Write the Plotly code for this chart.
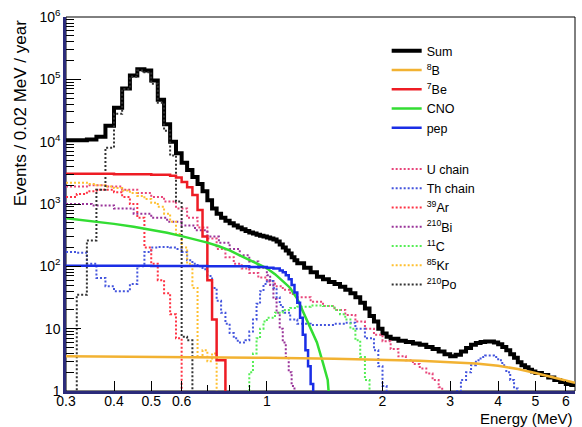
import math
import plotly.graph_objects as go

# ---------------- data (bin left edges in MeV, events / 0.02 MeV / year) ----------------
E_sum = [0.30, 0.32, 0.34, 0.36, 0.38, 0.40, 0.42, 0.44, 0.46, 0.48, 0.50, 0.52, 0.54, 0.56, 0.58,
         0.60, 0.62, 0.64, 0.66, 0.68, 0.70, 0.72, 0.74, 0.76, 0.78, 0.80, 0.82, 0.84, 0.86, 0.88,
         0.90, 0.92, 0.94, 0.96, 0.98, 1.00, 1.02, 1.04, 1.06, 1.08, 1.10, 1.12, 1.14, 1.16, 1.18,
         1.20, 1.25, 1.30, 1.35, 1.40, 1.45, 1.50, 1.55, 1.60, 1.65, 1.70, 1.75, 1.80, 1.85, 1.90,
         1.95, 2.00, 2.05, 2.10, 2.20, 2.30, 2.40, 2.50, 2.60, 2.70, 2.80, 2.90, 3.00, 3.10, 3.20,
         3.30, 3.40, 3.50, 3.60, 3.70, 3.80, 3.90, 4.00, 4.10, 4.20, 4.30, 4.40, 4.50, 4.60, 4.70,
         4.80, 4.90, 5.00, 5.20, 5.40, 5.60, 5.80, 6.00, 6.20, 6.34]
V_sum = [1.05e4, 1.05e4, 1.08e4, 1.2e4, 1.8e4, 3.5e4, 7.1e4, 1.15e5, 1.45e5, 1.38e5, 9.6e4, 4.7e4, 1.9e4, 1.0e4, 6.5e3,
         4.6e3, 3.5e3, 2.7e3, 2.1e3, 1.6e3, 1.15e3, 850, 700, 600, 540, 490, 450, 420, 395, 370,
         350, 335, 320, 310, 300, 290, 280, 270, 250, 225, 200, 180, 160, 140, 125,
         112, 95, 80, 68, 62, 56, 52, 47, 42, 37, 32, 26, 21, 16, 13,
         10, 8.4, 7.4, 6.9, 6.4, 6.1, 5.8, 5.5, 5.1, 4.7, 4.3, 3.9, 3.6, 3.8, 4.3,
         4.9, 5.5, 5.9, 6.1, 6.2, 6.2, 6.0, 5.6, 5.1, 4.5, 3.9, 3.4, 2.9, 2.6, 2.4,
         2.2, 2.05, 1.95, 1.8, 1.65, 1.5, 1.4, 1.3, 1.25, 1.25]

E_b8 = [0.30, 0.50, 0.70, 1.00, 1.50, 2.00, 2.50, 3.00, 3.50, 4.00, 4.50, 5.00, 5.50, 6.00, 6.34]
V_b8 = [3.6, 3.55, 3.45, 3.4, 3.3, 3.2, 3.05, 2.9, 2.75, 2.55, 2.25, 1.95, 1.7, 1.5, 1.35]

E_be7 = [0.30, 0.40, 0.50, 0.56, 0.58, 0.60, 0.62, 0.64, 0.66, 0.68, 0.70, 0.72, 0.74, 0.76, 0.78]
V_be7 = [3050, 3000, 2950, 2850, 2650, 2250, 1850, 1400, 800, 300, 60, 14, 3.1, 3.1, 0]

E_cno = [0.30, 0.35, 0.40, 0.45, 0.50, 0.55, 0.60, 0.65, 0.70, 0.75, 0.80, 0.85, 0.90, 0.95, 1.00,
         1.05, 1.10, 1.15, 1.20, 1.25, 1.30, 1.35, 1.40, 1.44, 1.47]
V_cno = [590, 530, 480, 430, 385, 345, 305, 270, 240, 210, 180, 150, 125, 108, 93,
         75, 58, 45, 30, 17, 10, 6, 2.8, 1.5, 0]

E_pep = [0.30, 0.50, 0.70, 0.90, 1.00, 1.04, 1.08, 1.10, 1.12, 1.14, 1.16, 1.18, 1.20, 1.22, 1.24,
         1.26, 1.28, 1.30, 1.32]
V_pep = [102, 101, 100, 98, 95, 92, 86, 80, 72, 62, 50, 38, 26, 15, 8,
         4.5, 2.5, 1.3, 0]

E_u = [0.30, 0.34, 0.38, 0.42, 0.46, 0.50, 0.54, 0.58, 0.62, 0.66, 0.70, 0.74, 0.78, 0.82, 0.86,
       0.90, 0.95, 1.00, 1.05, 1.10, 1.15, 1.20, 1.30, 1.40, 1.50, 1.60, 1.70, 1.80, 1.90, 2.00,
       2.10, 2.20, 2.30, 2.40, 2.50, 2.60, 2.70, 2.80, 2.86]
V_u = [1900, 2000, 1900, 1700, 1500, 1300, 1100, 850, 600, 420, 280, 190, 140, 110, 92,
       78, 66, 57, 48, 42, 36, 32, 27, 23, 20, 16.5, 13, 10, 8, 6.3,
       4.7, 3.6, 3.1, 2.7, 2.3, 1.9, 1.5, 1.15, 0]

E_th = [0.30, 0.32, 0.34, 0.36, 0.38, 0.40, 0.42, 0.44, 0.46, 0.48, 0.50, 0.52, 0.54, 0.56, 0.58,
        0.60, 0.62, 0.64, 0.66, 0.68, 0.70, 0.72, 0.74, 0.76, 0.78, 0.80, 0.82, 0.84, 0.86, 0.88,
        0.90, 0.92, 0.94, 0.96, 0.98, 1.00, 1.02, 1.04, 1.06, 1.08, 1.10, 1.15, 1.20, 1.30, 1.40,
        1.50, 1.60, 1.70, 1.80, 1.90, 1.95, 2.00, 2.05, 3.10, 3.20, 3.30, 3.40, 3.50, 3.60, 3.70,
        3.80, 3.90, 4.00, 4.10, 4.20, 4.30, 4.40, 4.50]
V_th = [170, 165, 110, 65, 48, 40, 40, 52, 100, 170, 200, 205, 205, 200, 190,
        170, 125, 110, 100, 90, 70, 45, 28, 18, 12, 8.5, 7, 6, 6, 6.5,
        9, 14, 25, 40, 52, 60, 58, 45, 32, 24, 18, 14, 12, 11.5, 11.5,
        12, 12.5, 10, 7, 4.5, 2.5, 1.2, 0, 1.0, 1.5, 2.0, 2.6, 3.1, 3.5, 3.7,
        3.7, 3.5, 3.1, 2.6, 2.0, 1.5, 1.1, 0]

E_ar = [0.30, 0.32, 0.34, 0.36, 0.38, 0.40, 0.42, 0.44, 0.46, 0.48, 0.50, 0.52, 0.54, 0.56, 0.58, 0.60]
V_ar = [1300, 1450, 1600, 1700, 1700, 1550, 1300, 1000, 600, 200, 110, 60, 37, 17, 7, 0]

E_bi = [0.30, 0.35, 0.40, 0.45, 0.50, 0.55, 0.60, 0.65, 0.70, 0.75, 0.80, 0.85, 0.90, 0.95, 1.00,
        1.02, 1.04, 1.06, 1.08, 1.10, 1.12, 1.14, 1.16, 1.18]
V_bi = [1000, 950, 850, 700, 600, 520, 450, 380, 300, 240, 190, 150, 120, 95, 72,
        50, 30, 18, 10, 6, 3.5, 2, 1.2, 0]

E_c11 = [0.88, 0.90, 0.92, 0.94, 0.96, 0.98, 1.00, 1.05, 1.10, 1.15, 1.20, 1.30, 1.40, 1.50, 1.55,
         1.60, 1.65, 1.70, 1.75, 1.80, 1.85]
V_c11 = [0, 2, 4, 7, 10, 13, 15, 18, 20, 21.5, 22.5, 23.5, 23, 20, 17,
         14, 10, 6.5, 3.5, 1.5, 0]

E_kr = [0.30, 0.32, 0.34, 0.36, 0.38, 0.40, 0.42, 0.44, 0.46, 0.48, 0.50, 0.52, 0.54, 0.56, 0.58,
        0.60, 0.62, 0.64, 0.66, 0.68, 0.70, 0.72, 0.74]
V_kr = [2200, 2200, 2100, 2000, 1900, 1800, 1650, 1500, 1350, 1200, 1050, 900, 700, 520, 330,
        200, 110, 45, 3.5, 4.5, 3, 4, 0]

E_po = [0.30, 0.32, 0.34, 0.36, 0.38, 0.40, 0.42, 0.44, 0.46, 0.48, 0.50, 0.52, 0.54, 0.56, 0.58,
        0.60, 0.62, 0.64]
V_po = [0, 35, 260, 1700, 8000, 2.8e4, 7.0e4, 1.1e5, 1.38e5, 1.3e5, 8.5e4, 4.2e4, 1.5e4, 6000, 1100,
        7.4, 6.5, 0]

X_TICKS = [0.3, 0.4, 0.5, 0.6, 1, 2, 3, 4, 5, 6]
X_TICKTEXT = ["0.3", "0.4", "0.5", "0.6", "1", "2", "3", "4", "5", "6"]
X_MINOR = [0.7, 0.8, 0.9]
Y_TICKS = [1, 10, 100, 1e3, 1e4, 1e5, 1e6]
Y_TICKTEXT = ["1", "10", "10<sup>2</sup>", "10<sup>3</sup>", "10<sup>4</sup>", "10<sup>5</sup>", "10<sup>6</sup>"]
Y_MINOR = [m * 10 ** k for k in range(0, 6) for m in range(2, 10)]

X_RANGE = (0.3, 6.34)
Y_RANGE = (1, 1e6)

# empty bins cannot be shown on a log axis: put them below the visible range
FLOOR = 0.3


def disp(vals):
    return [v if v > 0 else FLOOR for v in vals]


FONT = "Liberation Sans, Arial, Helvetica, sans-serif"

series = [
    # name, E, V, color, width, dash, shape, group
    ("Sum", E_sum, V_sum, "#000000", 4, "solid", "hv", "a"),
    ("<sup>8</sup>B", E_b8, V_b8, "#f2b232", 2.5, "solid", "linear", "a"),
    ("<sup>7</sup>Be", E_be7, V_be7, "#ee1c24", 2.5, "solid", "hv", "a"),
    ("CNO", E_cno, V_cno, "#33dd33", 2.5, "solid", "linear", "a"),
    ("pep", E_pep, V_pep, "#1a2ee6", 2.5, "solid", "hv", "a"),
    ("U chain", E_u, V_u, "#e8457a", 2, "2px,2px", "hv", "b"),
    ("Th chain", E_th, V_th, "#4455dd", 2, "2px,2px", "hv", "b"),
    ("<sup>39</sup>Ar", E_ar, V_ar, "#ff3344", 2, "2px,2px", "hv", "b"),
    ("<sup>210</sup>Bi", E_bi, V_bi, "#993399", 2, "2px,2px", "hv", "b"),
    ("<sup>11</sup>C", E_c11, V_c11, "#55ee55", 2, "2px,2px", "hv", "b"),
    ("<sup>85</sup>Kr", E_kr, V_kr, "#ffc030", 2, "2px,2px", "hv", "b"),
    ("<sup>210</sup>Po", E_po, V_po, "#333333", 2, "2px,2px", "hv", "b"),
]

fig = go.Figure()
draw_order = [0, 5, 6, 7, 8, 9, 10, 11, 2, 3, 4, 1]
for i in draw_order:
    name, e, v, col, w, dash, shape, grp = series[i]
    fig.add_trace(go.Scatter(
        x=e, y=disp(v), mode="lines", name=name,
        line=dict(color=col, width=w, dash=dash, shape=shape),
        legendgroup=grp, legendrank=i + 1,
    ))

# frame (top / right)
fig.add_shape(type="rect", xref="x domain", yref="y domain", x0=0, x1=1, y0=0, y1=1,
              line=dict(color="#000000", width=1), layer="below")

fig.update_layout(
    width=582, height=427,
    margin=dict(l=66, r=7, t=17, b=36),
    paper_bgcolor="white", plot_bgcolor="white",
    font=dict(family=FONT, size=14, color="#000000"),
    showlegend=True,
    legend=dict(
        x=0.630, y=0.949, xanchor="left", yanchor="top",
        bgcolor="rgba(255,255,255,0)", borderwidth=0,
        font=dict(family=FONT, size=12.5, color="#000000"),
        tracegroupgap=22, traceorder="grouped",
    ),
    xaxis=dict(
        type="log", range=[math.log10(X_RANGE[0]), math.log10(X_RANGE[1])],
        tickmode="array", tickvals=X_TICKS, ticktext=X_TICKTEXT,
        ticks="inside", ticklen=10, tickwidth=1, tickcolor="#000000",
        ticklabelstandoff=-5,
        minor=dict(tickmode="array", tickvals=X_MINOR, ticks="inside", ticklen=6, tickcolor="#000000"),
        showgrid=False, zeroline=False,
        showline=True, linecolor="#2b2b7a", linewidth=2.5,
        tickfont=dict(family=FONT, size=14),
    ),
    yaxis=dict(
        type="log", range=[math.log10(Y_RANGE[0]), math.log10(Y_RANGE[1])],
        tickmode="array", tickvals=Y_TICKS, ticktext=Y_TICKTEXT,
        ticks="inside", ticklen=15, tickwidth=1, tickcolor="#000000",
        minor=dict(tickmode="array", tickvals=Y_MINOR, ticks="inside", ticklen=8, tickcolor="#000000"),
        showgrid=False, zeroline=False,
        showline=True, linecolor="#2b2b7a", linewidth=2.5,
        tickfont=dict(family=FONT, size=14),
    ),
    annotations=[
        dict(text="Energy (MeV)", xref="paper", yref="paper", x=1.0, y=-0.073,
             xanchor="right", yanchor="middle", showarrow=False,
             font=dict(family=FONT, size=15)),
        dict(text="Events / 0.02 MeV / year", xref="paper", yref="paper", x=-0.09, y=0.997,
             xanchor="center", yanchor="top", textangle=-90, showarrow=False,
             font=dict(family=FONT, size=17)),
    ],
)

fig.write_html("out.html", config={"displayModeBar": False},
               post_script="document.body.style.margin='0px';")
